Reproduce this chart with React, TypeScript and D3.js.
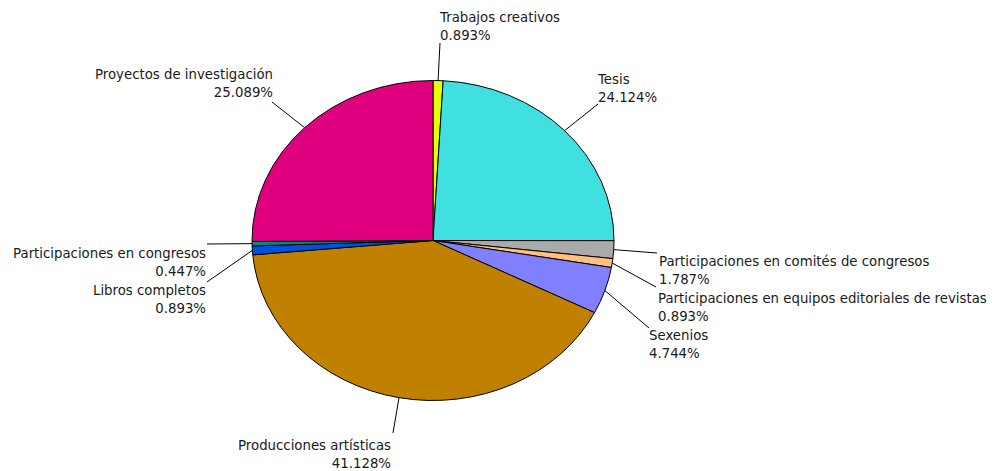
import React from "react";
import * as d3 from "d3";

const categories = [
  "Trabajos creativos",
  "Tesis",
  "Participaciones en comités de congresos",
  "Participaciones en equipos editoriales de revistas",
  "Sexenios",
  "Producciones artísticas",
  "Libros completos",
  "Participaciones en congresos",
  "Proyectos de investigación",
];
const values = [0.893, 24.124, 1.787, 0.893, 4.744, 41.128, 0.893, 0.447, 25.089];
const colors = ["#e4ff00", "#40e0e0", "#aaaaaa", "#ffc080", "#8080ff", "#c08000", "#0050e0", "#008a80", "#e0007f"];

// label layout: leader end (lx, ly), text anchor (tx, ty first baseline), text-anchor
const labelLayout = [
  { lx: 440, ly: 43, tx: 440, ty: 22, anchor: "start" },
  { lx: 598, ly: 104, tx: 598, ty: 84, anchor: "start" },
  { lx: 657, ly: 253, tx: 659, ty: 266, anchor: "start" },
  { lx: 656, ly: 287, tx: 658, ty: 303, anchor: "start" },
  { lx: 649, ly: 328, tx: 649, ty: 340, anchor: "start" },
  { lx: 393, ly: 433, tx: 391, ty: 450, anchor: "end" },
  { lx: 207, ly: 282, tx: 206, ty: 295, anchor: "end" },
  { lx: 207, ly: 244, tx: 206, ty: 258, anchor: "end" },
  { lx: 272, ly: 102, tx: 273, ty: 79, anchor: "end" },
];

const W = 992;
const H = 471;
const cx = 433;
const cy = 240.5;
const rx = 181;
const ry = 160;

export default function App() {
  const pie = d3.pie<number>().sort(null).value((d) => d);
  const arcs = pie(values);
  const arc = d3.arc<d3.PieArcDatum<number>>().innerRadius(0).outerRadius(ry);
  const sx = rx / ry;
  const lineH = 18;
  return (
    <svg width={W} height={H} style={{ position: "absolute", left: 0, top: 0, background: "#fff" }}>
      <g transform={`translate(${cx},${cy}) scale(${sx},1)`}>
        {arcs.map((a, i) => (
          <path
            key={i}
            d={arc(a) || ""}
            fill={colors[i]}
            stroke="#000"
            strokeWidth={1}
            vectorEffect="non-scaling-stroke"
          />
        ))}
      </g>
      {arcs.map((a, i) => {
        const mid = (a.startAngle + a.endAngle) / 2;
        const px = cx + rx * Math.sin(mid);
        const py = cy - ry * Math.cos(mid);
        const L = labelLayout[i];
        return (
          <g key={"l" + i}>
            <line x1={px} y1={py} x2={L.lx} y2={L.ly} stroke="#000" strokeWidth={1} />
            <text
              x={L.tx}
              y={L.ty}
              textAnchor={L.anchor as any}
              fontFamily="Tahoma, 'DejaVu Sans', Verdana, sans-serif"
              fontSize={13.3}
              fill="#1a1a1a"
            >
              <tspan x={L.tx}>{categories[i]}</tspan>
              <tspan x={L.tx} dy={lineH}>{values[i].toFixed(3) + "%"}</tspan>
            </text>
          </g>
        );
      })}
    </svg>
  );
}
